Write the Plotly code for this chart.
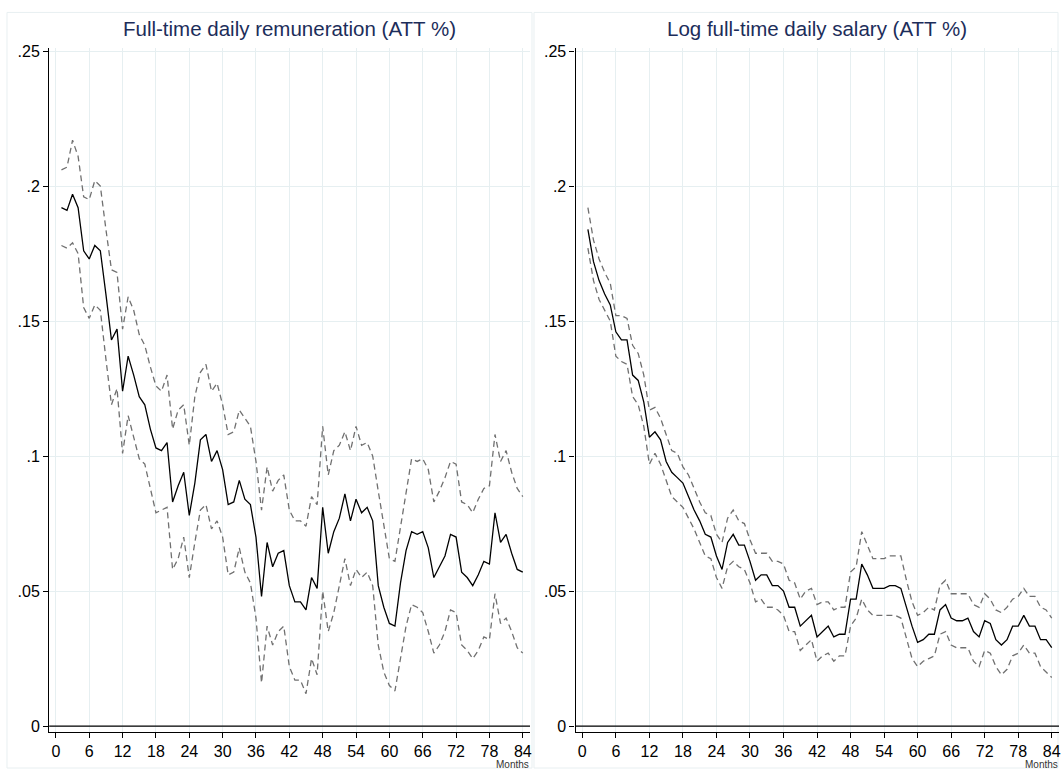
import plotly.graph_objects as go

months = list(range(1, 85))

# Left panel: Full-time daily remuneration (ATT %)
rem_est = [0.192, 0.191, 0.197, 0.192, 0.176, 0.173, 0.178, 0.176, 0.160, 0.143,
           0.147, 0.124, 0.137, 0.130, 0.122, 0.119, 0.110, 0.103, 0.102, 0.105,
           0.083, 0.089, 0.094, 0.078, 0.090, 0.106, 0.108, 0.098, 0.102, 0.095,
           0.082, 0.083, 0.091, 0.084, 0.082, 0.070, 0.048, 0.068, 0.059, 0.064,
           0.065, 0.052, 0.046, 0.046, 0.043, 0.055, 0.051, 0.081, 0.064, 0.072,
           0.077, 0.086, 0.076, 0.084, 0.079, 0.081, 0.076, 0.052, 0.044, 0.038,
           0.037, 0.053, 0.065, 0.072, 0.071, 0.072, 0.066, 0.055, 0.059, 0.063,
           0.071, 0.070, 0.057, 0.055, 0.052, 0.056, 0.061, 0.060, 0.079, 0.068,
           0.071, 0.064, 0.058, 0.057]
rem_hi = [0.206, 0.207, 0.217, 0.211, 0.196, 0.195, 0.202, 0.200, 0.184, 0.169,
          0.168, 0.147, 0.159, 0.154, 0.145, 0.141, 0.133, 0.126, 0.124, 0.130,
          0.110, 0.117, 0.119, 0.104, 0.122, 0.131, 0.134, 0.124, 0.127, 0.119,
          0.108, 0.109, 0.117, 0.114, 0.111, 0.098, 0.080, 0.096, 0.087, 0.091,
          0.093, 0.080, 0.076, 0.076, 0.074, 0.085, 0.082, 0.111, 0.093, 0.102,
          0.104, 0.109, 0.102, 0.111, 0.104, 0.105, 0.100, 0.087, 0.074, 0.062,
          0.061, 0.074, 0.087, 0.099, 0.098, 0.099, 0.095, 0.083, 0.087, 0.092,
          0.098, 0.097, 0.083, 0.082, 0.079, 0.084, 0.088, 0.089, 0.108, 0.098,
          0.102, 0.094, 0.088, 0.085]
rem_lo = [0.178, 0.177, 0.179, 0.175, 0.155, 0.151, 0.156, 0.154, 0.136, 0.119,
          0.125, 0.101, 0.115, 0.107, 0.099, 0.097, 0.088, 0.079, 0.080, 0.081,
          0.058, 0.062, 0.070, 0.055, 0.068, 0.080, 0.082, 0.073, 0.076, 0.070,
          0.056, 0.057, 0.066, 0.057, 0.053, 0.040, 0.016, 0.037, 0.030, 0.035,
          0.037, 0.022, 0.017, 0.017, 0.012, 0.025, 0.019, 0.050, 0.035, 0.042,
          0.052, 0.062, 0.052, 0.058, 0.055, 0.057, 0.052, 0.030, 0.020, 0.015,
          0.013, 0.025, 0.037, 0.045, 0.044, 0.042, 0.035, 0.027, 0.030, 0.035,
          0.043, 0.042, 0.030, 0.028, 0.025, 0.028, 0.033, 0.032, 0.049, 0.038,
          0.040, 0.035, 0.029, 0.027]

# Right panel: Log full-time daily salary (ATT %)
sal_est = [0.184, 0.172, 0.165, 0.160, 0.156, 0.146, 0.143, 0.143, 0.130, 0.128,
           0.120, 0.107, 0.109, 0.106, 0.098, 0.094, 0.092, 0.090, 0.085, 0.080,
           0.076, 0.071, 0.070, 0.063, 0.058, 0.068, 0.071, 0.067, 0.067, 0.061,
           0.054, 0.056, 0.056, 0.052, 0.052, 0.050, 0.044, 0.044, 0.037, 0.039,
           0.041, 0.033, 0.035, 0.037, 0.033, 0.034, 0.034, 0.047, 0.047, 0.060,
           0.056, 0.051, 0.051, 0.051, 0.052, 0.052, 0.051, 0.044, 0.037, 0.031,
           0.032, 0.034, 0.034, 0.043, 0.045, 0.040, 0.039, 0.039, 0.040, 0.035,
           0.033, 0.039, 0.038, 0.032, 0.030, 0.032, 0.037, 0.037, 0.041, 0.037,
           0.037, 0.032, 0.032, 0.029]
sal_hi = [0.192, 0.180, 0.173, 0.168, 0.164, 0.152, 0.152, 0.151, 0.141, 0.138,
          0.130, 0.117, 0.118, 0.114, 0.108, 0.102, 0.101, 0.096, 0.093, 0.088,
          0.083, 0.079, 0.078, 0.071, 0.068, 0.077, 0.080, 0.076, 0.075, 0.069,
          0.064, 0.064, 0.064, 0.061, 0.061, 0.060, 0.054, 0.053, 0.047, 0.050,
          0.051, 0.045, 0.046, 0.046, 0.043, 0.044, 0.044, 0.057, 0.059, 0.072,
          0.067, 0.062, 0.062, 0.062, 0.063, 0.063, 0.063, 0.054, 0.046, 0.041,
          0.042, 0.044, 0.043, 0.052, 0.054, 0.049, 0.049, 0.049, 0.049, 0.045,
          0.044, 0.049, 0.047, 0.043, 0.042, 0.044, 0.047, 0.048, 0.051, 0.048,
          0.048, 0.044, 0.043, 0.040]
sal_lo = [0.177, 0.165, 0.158, 0.154, 0.150, 0.137, 0.135, 0.134, 0.122, 0.119,
          0.111, 0.097, 0.101, 0.097, 0.091, 0.085, 0.083, 0.081, 0.077, 0.073,
          0.068, 0.063, 0.062, 0.055, 0.051, 0.059, 0.061, 0.059, 0.058, 0.053,
          0.046, 0.047, 0.044, 0.044, 0.043, 0.041, 0.035, 0.035, 0.028, 0.030,
          0.032, 0.024, 0.026, 0.027, 0.024, 0.026, 0.026, 0.037, 0.040, 0.047,
          0.043, 0.041, 0.041, 0.041, 0.041, 0.041, 0.040, 0.032, 0.025, 0.022,
          0.024, 0.025, 0.026, 0.034, 0.035, 0.030, 0.029, 0.029, 0.029, 0.024,
          0.022, 0.028, 0.027, 0.022, 0.019, 0.021, 0.026, 0.027, 0.030, 0.027,
          0.027, 0.022, 0.020, 0.018]

titles = ["Full-time daily remuneration (ATT %)", "Log full-time daily salary (ATT %)"]
x_ticks = list(range(0, 85, 6))
y_tickvals = [0, 0.05, 0.1, 0.15, 0.2, 0.25]
y_ticktext = ["0", ".05", ".1", ".15", ".2", ".25"]

W, H = 1063, 773
FONT = "Liberation Sans, Arial, Helvetica, sans-serif"
GRID = "#e6eff1"
DASH_COL = "#707070"

fig = go.Figure()

panels = [
    (rem_est, rem_hi, rem_lo, "x", "y"),
    (sal_est, sal_hi, sal_lo, "x2", "y2"),
]
for est, hi, lo, xa, ya in panels:
    fig.add_trace(go.Scatter(x=months, y=hi, mode="lines", xaxis=xa, yaxis=ya,
                             line=dict(color=DASH_COL, width=1.3, dash="6px,4px"),
                             showlegend=False, hoverinfo="skip"))
    fig.add_trace(go.Scatter(x=months, y=lo, mode="lines", xaxis=xa, yaxis=ya,
                             line=dict(color=DASH_COL, width=1.3, dash="6px,4px"),
                             showlegend=False, hoverinfo="skip"))
    fig.add_trace(go.Scatter(x=months, y=est, mode="lines", xaxis=xa, yaxis=ya,
                             line=dict(color="black", width=1.3),
                             showlegend=False))

# pixel geometry
left_px = [(49.3, 531.0), (576.7, 1061.0)]
top_px, bot_px = 43.3, 734.3
ydom = [(H - bot_px) / H, (H - top_px) / H]

axis_common = dict(
    showline=True, linecolor="black", linewidth=1.3,
    ticks="outside", ticklen=5, tickwidth=1.2, tickcolor="black",
    showgrid=True, gridcolor=GRID, gridwidth=1,
    zeroline=False,
    tickfont=dict(family=FONT, size=16, color="black"),
)

layout = dict(
    width=W, height=H,
    margin=dict(l=0, r=0, t=0, b=0),
    paper_bgcolor="white", plot_bgcolor="white",
    showlegend=False,
)
for i, (x0, x1) in enumerate(left_px):
    sfx = "" if i == 0 else str(i + 1)
    layout["xaxis" + sfx] = dict(
        axis_common, domain=[x0 / W, x1 / W], range=[-1.2, 85.3],
        tickvals=x_ticks, anchor="y" + sfx,
    )
    layout["yaxis" + sfx] = dict(
        axis_common, domain=ydom, range=[-0.0021, 0.2512],
        tickvals=y_tickvals, ticktext=y_ticktext, anchor="x" + sfx,
    )
fig.update_layout(**layout)

shapes = []
annotations = []
box_px = [(7, 533), (535, 1060)]
for i, (x0, x1) in enumerate(left_px):
    sfx = "" if i == 0 else str(i + 1)
    # horizontal reference line at zero
    shapes.append(dict(type="line", xref="x" + sfx + " domain", yref="y" + sfx,
                       x0=0, x1=1, y0=0, y1=0,
                       line=dict(color="black", width=1.3), layer="above"))
    # panel frame
    bx0, bx1 = box_px[i]
    shapes.append(dict(type="rect", xref="paper", yref="paper",
                       x0=bx0 / W, x1=bx1 / W, y0=(H - 771) / H, y1=(H - 7.5) / H,
                       line=dict(color="#e8eff1", width=1), layer="below"))
    annotations.append(dict(text=titles[i], xref="paper", yref="paper",
                            x=(x0 + x1) / 2 / W, y=(H - 24) / H,
                            xanchor="center", yanchor="middle", showarrow=False,
                            font=dict(family=FONT, size=20.5, color="#1c2d5a")))
    annotations.append(dict(text="Months", xref="paper", yref="paper",
                            x=(x1 + 1) / W, y=(H - 767) / H,
                            xanchor="right", yanchor="middle", showarrow=False,
                            font=dict(family=FONT, size=10, color="#333333")))
fig.update_layout(shapes=shapes, annotations=annotations)

fig.write_html("out.html", include_plotlyjs=True,
               config={"displayModeBar": False},
               post_script="document.body.style.margin='0';document.body.style.overflow='hidden';")
